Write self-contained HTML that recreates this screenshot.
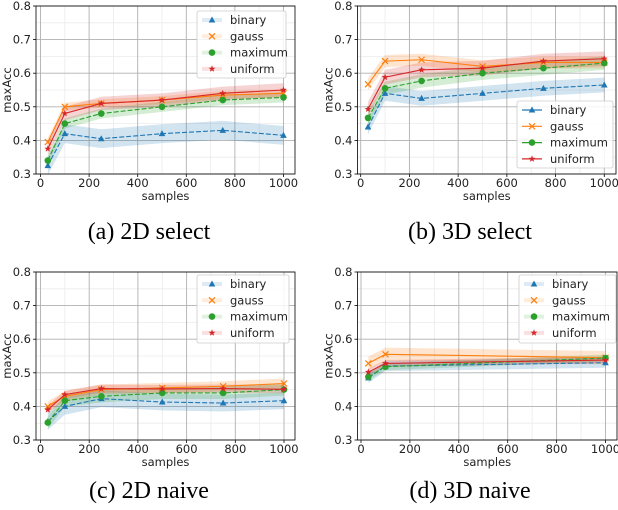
<!DOCTYPE html>
<html><head><meta charset="utf-8"><style>
body{margin:0;background:#fff;width:618px;height:510px;overflow:hidden}
svg{display:block}
text{font-family:"DejaVu Sans","Liberation Sans",sans-serif}
.cap{font-family:"Liberation Serif",serif;font-size:24px;fill:#000}
</style></head><body>
<svg id="c" width="618" height="510"></svg>
<script>
const names=["binary","gauss","maximum","uniform"];
const colors=["#1f77b4","#ff7f0e","#2ca02c","#d62728"];
const xTicks=[0,200,400,600,800,1000];
const yTicks=[0.3,0.4,0.5,0.6,0.7,0.8];
const xsFull=[30,100,250,500,750,1000];
const xsShort=[30,100,1000];
const aBinary=[.325,.42,.405,.42,.43,.415];
const aGauss=[.395,.50,.51,.52,.535,.54];
const aMaximum=[.34,.45,.48,.50,.52,.528];
const aUniform=[.375,.48,.51,.52,.54,.55];
const aErr=[.028,.012,.015,.02];
const bBinary=[.44,.54,.525,.54,.555,.565];
const bGauss=[.567,.636,.64,.62,.632,.632];
const bMaximum=[.467,.555,.577,.60,.615,.63];
const bUniform=[.493,.588,.61,.615,.636,.643];
const bErr=[.022,.018,.02,.022];
const cBinary=[.355,.40,.423,.413,.41,.417];
const cGauss=[.40,.43,.45,.455,.46,.468];
const cMaximum=[.352,.417,.43,.44,.44,.45];
const cUniform=[.39,.435,.453,.452,.453,.451];
const cErr=[.025,.015,.018,.012];
const dBinary=[.485,.52,.53];
const dGauss=[.528,.555,.545];
const dMaximum=[.488,.518,.544];
const dUniform=[.502,.528,.538];
const dErr=[.015,.02,.01,.01];
const NS="http://www.w3.org/2000/svg";
const svg=document.getElementById('c');
function el(t,a,p){const e=document.createElementNS(NS,t);for(const k in a)e.setAttribute(k,a[k]);(p||svg).appendChild(e);return e;}
const panels=[
 {id:"a",cap:"(a) 2D select",x0:40.5,x1:283.5,l:36,r:295,t:6,b:174,xs:xsFull,s:[aBinary,aGauss,aMaximum,aUniform],err:aErr,leg:[197,11,89,67],cx:149,cy:239},
 {id:"b",cap:"(b) 3D select",x0:360.7,x1:604.3,l:357.5,r:616,t:6,b:174,xs:xsFull,s:[bBinary,bGauss,bMaximum,bUniform],err:bErr,leg:[517,101,96,67],cx:470,cy:239},
 {id:"c",cap:"(c) 2D naive",x0:40.5,x1:284,l:36,r:295,t:272,b:440,xs:xsFull,s:[cBinary,cGauss,cMaximum,cUniform],err:cErr,leg:[197,275,92,68],cx:149,cy:498},
 {id:"d",cap:"(d) 3D naive",x0:361,x1:605.5,l:357.5,r:617,t:272,b:440,xs:xsShort,s:[dBinary,dGauss,dMaximum,dUniform],err:dErr,leg:[519,275,97,68],cx:470,cy:498}
];
function marker(g,i,x,y,c){
 if(i===0){el('polygon',{points:`${x},${y-3.5} ${x+3.3},${y+2.5} ${x-3.3},${y+2.5}`,fill:c},g);}
 else if(i===1){el('path',{d:`M${x-3} ${y-3}L${x+3} ${y+3}M${x-3} ${y+3}L${x+3} ${y-3}`,stroke:c,'stroke-width':1.2},g);}
 else if(i===2){el('circle',{cx:x,cy:y,r:3.3,fill:c},g);}
 else{let p=[];for(let k=0;k<10;k++){const r=k%2?1.5:3.6,a=-Math.PI/2+k*Math.PI/5;p.push((x+r*Math.cos(a)).toFixed(2)+','+(y+r*Math.sin(a)).toFixed(2));}el('polygon',{points:p.join(' '),fill:c},g);}
}
panels.forEach(P=>{
 const g=el('g',{});  
 const X=v=>P.x0+(P.x1-P.x0)*v/1000, Y=v=>P.b-(P.b-P.t)*(v-0.3)/0.5;
 for(let v=100;v<=1000;v+=200)el('line',{x1:X(v),x2:X(v),y1:P.t,y2:P.b,stroke:'#ebebeb','stroke-width':0.8},g);
 for(let v=0.35;v<0.8;v+=0.1)el('line',{x1:P.l,x2:P.r,y1:Y(v),y2:Y(v),stroke:'#ebebeb','stroke-width':0.8},g);
 xTicks.forEach(v=>{el('line',{x1:X(v),x2:X(v),y1:P.t,y2:P.b,stroke:'#b0b0b0','stroke-width':0.9},g);el('line',{x1:X(v),x2:X(v),y1:P.b,y2:P.b+3,stroke:'#000','stroke-width':0.8},g);
  const t=el('text',{x:X(v),y:P.b+13,'text-anchor':'middle','font-size':11.5,fill:'#222'},g);t.textContent=v;});
 yTicks.forEach(v=>{el('line',{x1:P.l,x2:P.r,y1:Y(v),y2:Y(v),stroke:'#b0b0b0','stroke-width':0.9},g);el('line',{x1:P.l-3,x2:P.l,y1:Y(v),y2:Y(v),stroke:'#000','stroke-width':0.8},g);
  const t=el('text',{x:P.l-5,y:Y(v)+4,'text-anchor':'end','font-size':11.5,fill:'#222'},g);t.textContent=v.toFixed(1);});
 P.s.forEach((ys,i)=>{
  const e=P.err[i];
  const up=P.xs.map((x,k)=>X(x)+','+Y(ys[k]+e)),dn=P.xs.map((x,k)=>X(x)+','+Y(ys[k]-e)).reverse();
  const band=el('polygon',{points:up.concat(dn).join(' '),fill:colors[i],'fill-opacity':0.2},g);
 });
 P.s.forEach((ys,i)=>{
  const ln=el('polyline',{points:P.xs.map((x,k)=>X(x)+','+Y(ys[k])).join(' '),fill:'none',stroke:colors[i],'stroke-width':1.1,'stroke-dasharray':(i===0||i===2)?'5,2':'none'},g);
  
  P.xs.forEach((x,k)=>marker(g,i,X(x),Y(ys[k]),colors[i]));
 });
 el('rect',{x:P.l,y:P.t,width:P.r-P.l,height:P.b-P.t,fill:'none',stroke:'#000','stroke-width':0.8},g);
 const xl=el('text',{x:(P.l+P.r)/2,y:P.b+26,'text-anchor':'middle','font-size':11.5,fill:'#222'},g);xl.textContent='samples';
 const yl=el('text',{x:0,y:0,'text-anchor':'middle','font-size':11.5,fill:'#222',transform:`translate(${P.l-25},${(P.t+P.b)/2}) rotate(-90)`},g);yl.textContent='maxAcc';
 const [lx,ly,lw,lh]=P.leg;
 const lg=el('g',{},g);
 el('rect',{x:lx,y:ly,width:lw,height:lh,rx:2,fill:'#fff','fill-opacity':0.85,stroke:'#ccc','stroke-width':0.8},lg);
 names.forEach((n,i)=>{const yy=ly+9+i*16.3;
  el('line',{x1:lx+5,x2:lx+25,y1:yy,y2:yy,stroke:colors[i],'stroke-width':P.id==='b'?1.2:4,'stroke-opacity':P.id==='b'?1:0.15},lg);
  marker(lg,i,lx+15,yy,colors[i]);
  const t=el('text',{x:lx+33,y:yy+4,'font-size':11.5,fill:'#222'},lg);t.textContent=n;});
 const c=el('text',{x:P.cx,y:P.cy,'text-anchor':'middle',class:'cap'});c.textContent=P.cap;
});
</script>
</body></html>
